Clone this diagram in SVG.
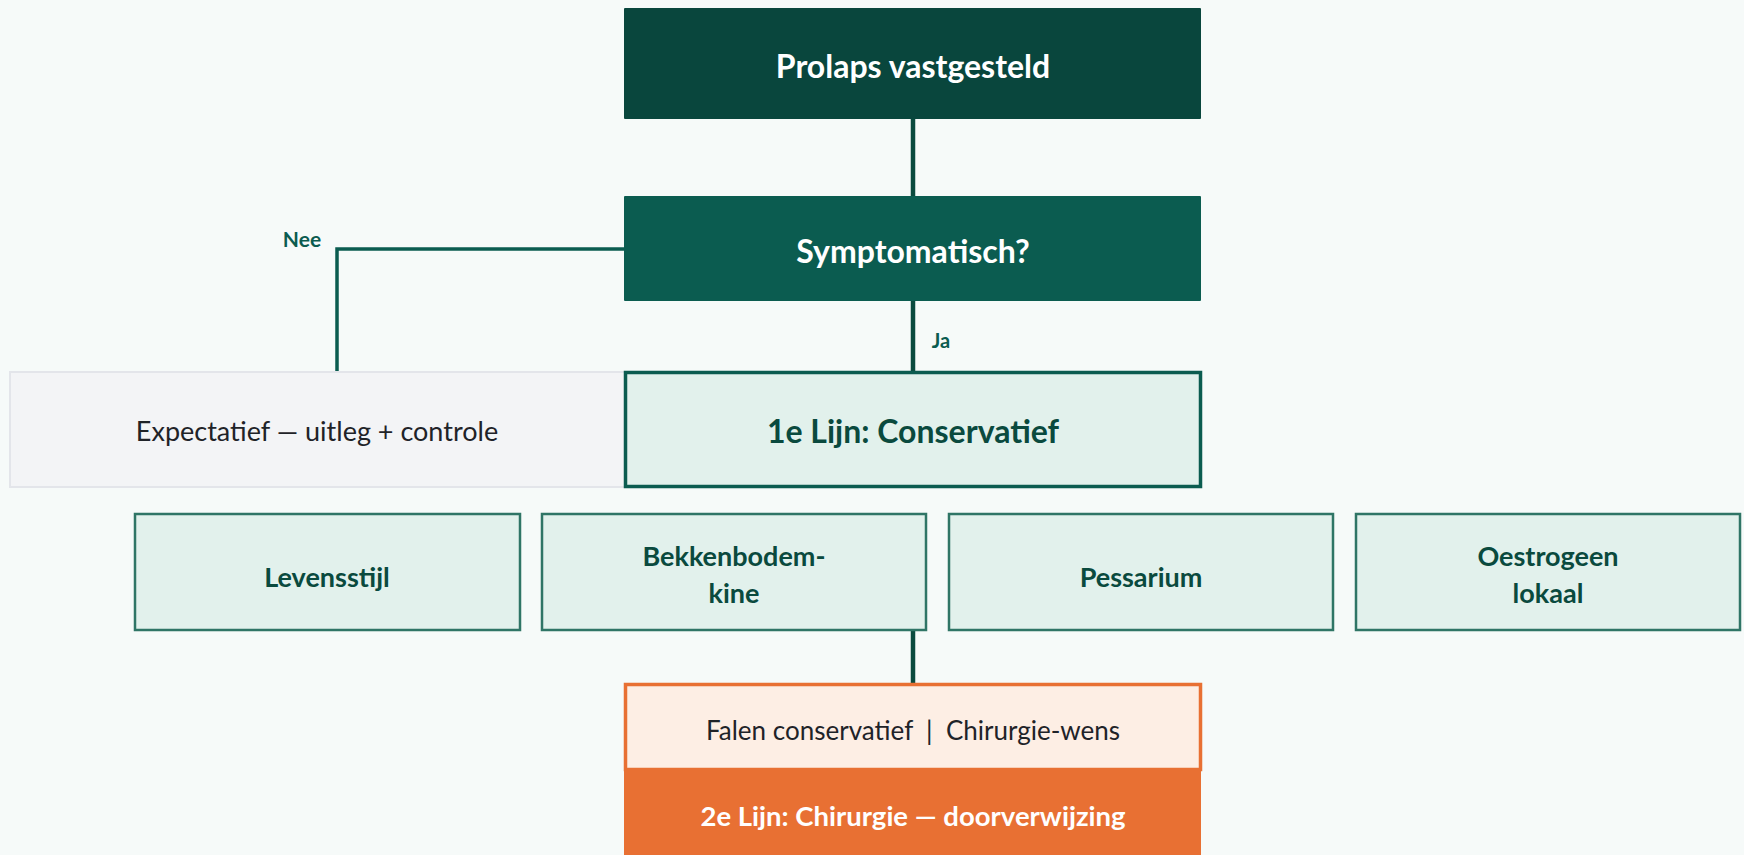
<svg xmlns="http://www.w3.org/2000/svg" width="1744" height="855" viewBox="0 0 1744 855">
  <style>
    .t { font-family: Lato, "Liberation Sans", sans-serif; text-anchor: middle; dominant-baseline: central; }
    .b { font-weight: bold; }
    .w { fill: #ffffff; }
    .dg { fill: #0a4a3e; }
    .dark { fill: #1f2328; }
    .opt rect { fill: #e2f1ec; stroke: #2f7566; stroke-width: 2.5; }
    .opt text { font-size: 27px; }
    .conn-main { stroke: #0a4a3e; stroke-width: 4.5; fill: none; }
    .conn-sec { stroke: #0b5c50; stroke-width: 3.5; fill: none; }
  </style>
  <rect width="1744" height="855" fill="#f6faf9"/>

  <g id="connectors">
    <line class="conn-main" x1="913" y1="119" x2="913" y2="196"/>
    <polyline class="conn-sec" points="624,249 337,249 337,371"/>
    <line class="conn-main" x1="913" y1="301" x2="913" y2="371"/>
    <line class="conn-main" x1="913" y1="630" x2="913" y2="683"/>
    <text class="t b" x="302" y="238" font-size="21" fill="#0b5c50">Nee</text>
    <text class="t b" x="941" y="340" font-size="20" fill="#0b5c50">Ja</text>
  </g>

  <g id="node-prolaps">
    <rect x="624" y="8" width="577" height="111" fill="#09463d" rx="1"/>
    <text class="t b w" x="913" y="65" font-size="32">Prolaps vastgesteld</text>
  </g>

  <g id="node-symptomatisch">
    <rect x="624" y="196" width="577" height="105" fill="#0b5c50" rx="1"/>
    <text class="t b w" x="913" y="250" font-size="32">Symptomatisch?</text>
  </g>

  <g id="node-expectatief">
    <rect x="10" y="372" width="620" height="115" fill="#f3f4f6" stroke="#e3e5ea" stroke-width="2"/>
    <text class="t dark" x="317" y="430" font-size="27">Expectatief — uitleg + controle</text>
  </g>

  <g id="node-conservatief">
    <rect x="625.5" y="372.5" width="575" height="114" fill="#e2f1ec" stroke="#0b5c50" stroke-width="3.5"/>
    <text class="t b dg" x="913" y="430" font-size="32">1e Lijn: Conservatief</text>
  </g>

  <g id="node-levensstijl" class="opt">
    <rect x="135" y="514" width="385" height="116"/>
    <text class="t b dg" x="327" y="576">Levensstijl</text>
  </g>

  <g id="node-bekkenbodem" class="opt">
    <rect x="542" y="514" width="384" height="116"/>
    <text class="t b dg" x="734" y="555">Bekkenbodem-</text>
    <text class="t b dg" x="734" y="592">kine</text>
  </g>

  <g id="node-pessarium" class="opt">
    <rect x="949" y="514" width="384" height="116"/>
    <text class="t b dg" x="1141" y="576">Pessarium</text>
  </g>

  <g id="node-oestrogeen" class="opt">
    <rect x="1356" y="514" width="384" height="116"/>
    <text class="t b dg" x="1548" y="555">Oestrogeen</text>
    <text class="t b dg" x="1548" y="592">lokaal</text>
  </g>

  <g id="node-falen">
    <rect x="625.5" y="684.5" width="575" height="85" fill="#fdeee4" stroke="#e87033" stroke-width="3.5"/>
    <text class="t dark" x="913" y="730" font-size="26" xml:space="preserve">Falen conservatief  |  Chirurgie-wens</text>
  </g>

  <g id="node-chirurgie">
    <rect x="624" y="770" width="577" height="90" fill="#e87033"/>
    <text class="t b w" x="913" y="815" font-size="27.5">2e Lijn: Chirurgie — doorverwijzing</text>
  </g>
</svg>
